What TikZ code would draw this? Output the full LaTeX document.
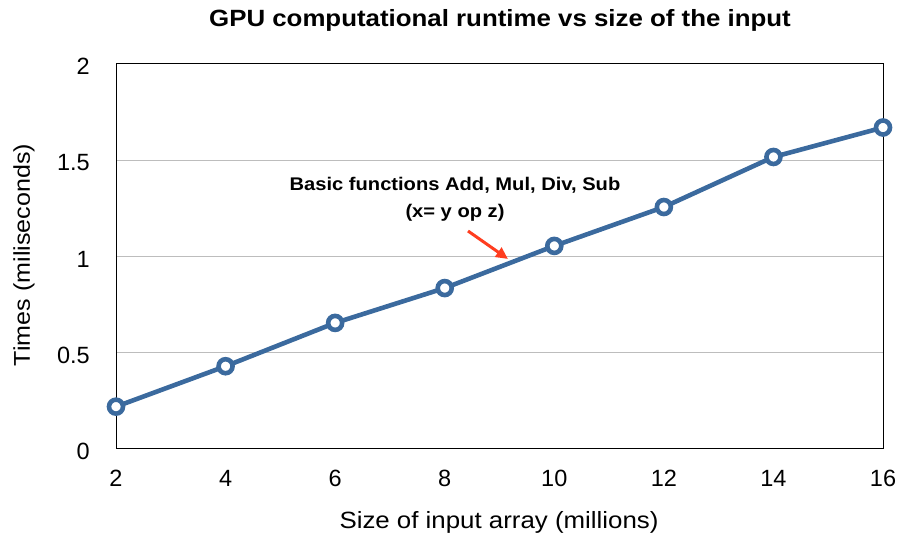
\documentclass[tikz,border=0pt]{standalone}
\usepackage{fontspec}
\setmainfont{Liberation Sans}[FakeStretch=1.1]
\newfontfamily\digitfont{Liberation Sans}
\usetikzlibrary{arrows.meta}
\definecolor{serie}{HTML}{3B6A9E}
\definecolor{gridc}{HTML}{BDBDBD}
\definecolor{arrowc}{HTML}{FF3D1F}
\begin{document}
\begin{tikzpicture}[x=1pt,y=1pt,
  ticklab/.style={font=\digitfont\fontsize{23.5}{26}\selectfont, inner sep=0pt},
  axlab/.style={font=\fontsize{23.5}{27}\selectfont, inner sep=0pt},
  datapt/.style={circle, draw=serie, fill=white, line width=4.6pt, minimum size=14pt, inner sep=0pt},
  seriesline/.style={draw=serie, line width=4.6pt, line join=round},
  gridline/.style={draw=gridc, line width=1pt},
  frame/.style={draw=black, line width=1pt},
  note/.style={font=\bfseries\fontsize{18.3}{27}\selectfont, align=center, inner sep=0pt},
  callout/.style={draw=arrowc, line width=3pt, -{Triangle[length=12pt,width=11pt]}}]
\useasboundingbox (0,0) rectangle (901,540);
\node[font=\bfseries\fontsize{23.5}{27}\selectfont, inner sep=0pt] (title) at (500,520) {GPU computational runtime vs size of the input};
\node[axlab] (xlab) at (499,18) {Size of input array (millions)};
\node[axlab, font=\fontsize{22.8}{26}\selectfont, rotate=90] (ylab) at (24,285) {Times (miliseconds)};
\begin{scope}[shift={(116pt,91pt)}, x=54.786pt, y=192.5pt]
  \foreach \t in {0.5,1,1.5} \draw[gridline] (0,\t) -- (14,\t);
  \draw[frame] (0,0) rectangle (14,2);
  \foreach \v [evaluate=\v as \xx using \v-2] in {2,4,...,16}
    \node[ticklab] (xt\v) at (\xx,-0.153) {\v};
  \foreach \t/\lab in {0/0,0.5/0.5,1/1,1.5/1.5,2/2}
    \node[ticklab, anchor=east] at ([xshift=-26pt,yshift=-2.5pt]0,\t) {\lab};
  \coordinate (c1) at (0,0.22);
  \coordinate (c2) at (2,0.43);
  \coordinate (c3) at (4,0.655);
  \coordinate (c4) at (6,0.836);
  \coordinate (c5) at (8,1.055);
  \coordinate (c6) at (10,1.257);
  \coordinate (c7) at (12,1.517);
  \coordinate (c8) at (14,1.67);
  \draw[seriesline] (c1) -- (c2) -- (c3) -- (c4) -- (c5) -- (c6) -- (c7) -- (c8);
  \foreach \i in {1,...,8} \node[datapt] (p\i) at (c\i) {};
\end{scope}
\node[note] (note) at (455,341) {Basic functions Add, Mul, Div, Sub\\(x= y op z)};
\coordinate (tail) at (468,309);
\coordinate (head) at (508,281);
\draw[callout] (tail) -- (head);
\end{tikzpicture}
\end{document}
